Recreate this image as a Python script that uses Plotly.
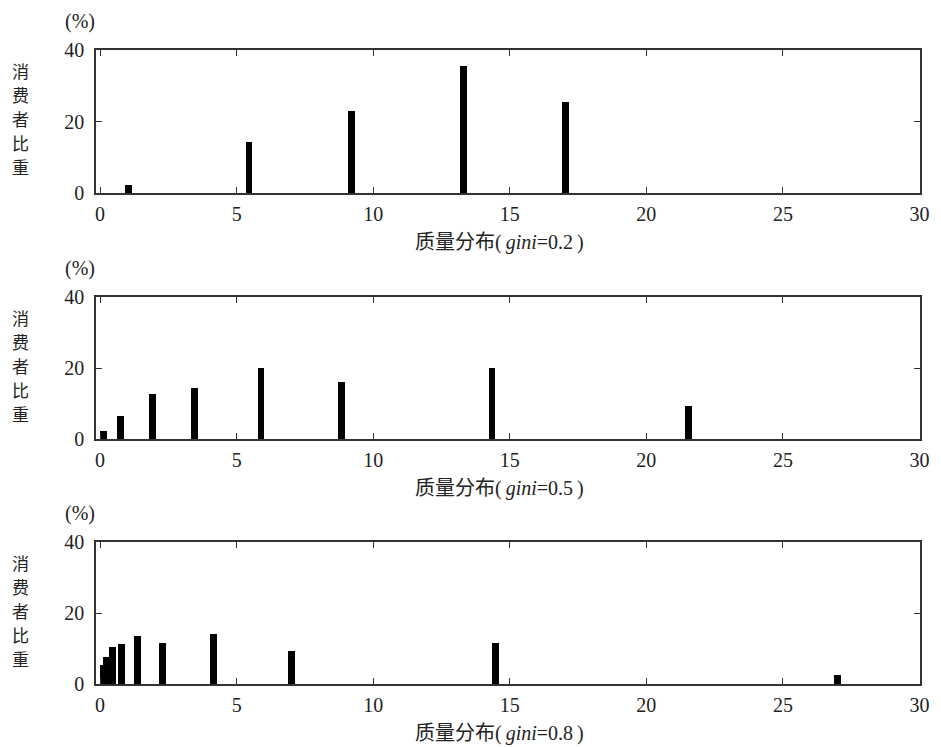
import plotly.graph_objects as go

# Panel data (x = quality level, y = consumer share %)
x_gini02 = [1.05, 5.45, 9.2, 13.3, 17.05]
y_gini02 = [2.2, 14.2, 22.8, 35.4, 25.4]

x_gini05 = [0.13, 0.75, 1.93, 3.47, 5.89, 8.84, 14.35, 21.55]
y_gini05 = [2.3, 6.4, 12.6, 14.4, 20.0, 16.1, 20.0, 9.2]

x_gini08 = [0.12, 0.22, 0.45, 0.77, 1.36, 2.29, 4.14, 7.01, 14.47, 27.0]
y_gini08 = [5.4, 7.7, 10.5, 11.2, 13.5, 11.6, 14.1, 9.3, 11.6, 2.6]

x_ticks = [0, 5, 10, 15, 20, 25, 30]
y_ticks = [0, 20, 40]
gini_labels = ["0.2", "0.5", "0.8"]
y_title_chars = ["消", "费", "者", "比", "重"]

W, H = 941, 747
ML, MR, MT, MB = 96, 14, 50, 63
plot_h = H - MT - MB
plot_w = W - ML - MR
# panel frames in pixels (top, bottom)
frames = [(50, 193), (297, 439), (542, 684)]

def py(pix):
    return (H - MB - pix) / plot_h

def px(pix):
    return (pix - ML) / plot_w

fig = go.Figure()
series = [(x_gini02, y_gini02), (x_gini05, y_gini05), (x_gini08, y_gini08)]
serif = "Liberation Serif, 'Times New Roman', Noto Sans CJK SC"
cjk = "Noto Sans CJK SC, Noto Sans CJK JP"

annotations = []
for i, (xs, ys) in enumerate(series):
    n = "" if i == 0 else str(i + 1)
    fig.add_trace(go.Bar(x=xs, y=ys, width=0.25, marker=dict(color="black", line=dict(width=0)),
                         xaxis="x" + n, yaxis="y" + n, showlegend=False))
    top, bot = frames[i]
    axis_common = dict(showline=True, linecolor="#333", linewidth=1.6, mirror="ticks",
                       ticks="inside", ticklen=6, tickwidth=1.3, tickcolor="#333",
                       showgrid=False, zeroline=False,
                       tickfont=dict(family=serif, size=20, color="#222"))
    fig.update_layout(**{
        "xaxis" + n: dict(domain=[0, 1], range=[-0.15, 30.02], tickvals=x_ticks,
                          anchor="y" + n, ticklabelstandoff=2, **axis_common),
        "yaxis" + n: dict(domain=[py(bot), py(top)], range=[0, 40], tickvals=y_ticks,
                          anchor="x" + n, ticklabelstandoff=6, **axis_common),
    })
    # x title
    annotations.append(dict(
        text="质量分布(\u2009<i>gini</i>=" + gini_labels[i] + "\u2009)", xref="paper", yref="paper",
        x=px(503), y=py(bot), yanchor="top", xanchor="center",
        yshift=-36, showarrow=False, font=dict(family=serif, size=20, color="#222")))
    # (%) label
    annotations.append(dict(
        text="(%)", xref="paper", yref="paper", x=px(80),
        y=py(top - 29), yanchor="middle", xanchor="center", showarrow=False,
        font=dict(family=serif, size=20, color="#222")))
    # vertical y title, one character per annotation
    center = (top + bot) / 2 - 3
    for k, ch in enumerate(y_title_chars):
        annotations.append(dict(
            text=ch, xref="paper", yref="paper",
            x=px(20), y=py(center + (k - 2) * 24), yanchor="middle",
            xanchor="center", showarrow=False, borderpad=0,
            font=dict(family=cjk, size=17, color="#222")))

fig.update_layout(width=W, height=H, margin=dict(l=ML, r=MR, t=MT, b=MB),
                  plot_bgcolor="white", paper_bgcolor="white", bargap=0,
                  annotations=annotations)
fig.write_html("out.html")
